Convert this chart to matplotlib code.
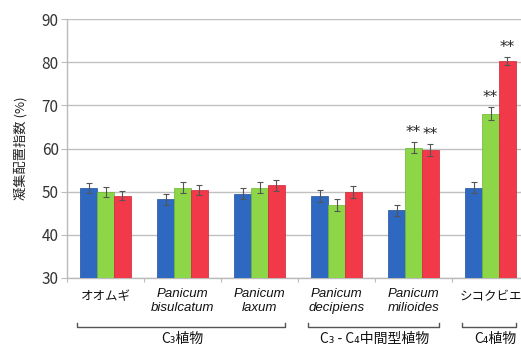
import matplotlib
matplotlib.use("Agg")
import matplotlib.pyplot as plt
from matplotlib.transforms import blended_transform_factory
import numpy as np

# データ
categories = ["オオムギ", "Panicum\nbisulcatum", "Panicum\nlaxum",
              "Panicum\ndecipiens", "Panicum\nmilioides", "シコクビエ"]
italic_flags = [False, True, True, True, True, False]
blue_vals = [50.8, 48.2, 49.5, 49.0, 45.7, 50.9]
green_vals = [49.9, 50.9, 50.9, 47.0, 60.2, 68.1]
red_vals = [49.1, 50.4, 51.5, 49.9, 59.6, 80.3]
blue_err = [1.1, 1.3, 1.3, 1.3, 1.3, 1.3]
green_err = [1.1, 1.3, 1.3, 1.4, 1.2, 1.4]
red_err = [1.1, 1.2, 1.3, 1.4, 1.4, 0.9]
green_sig = [False, False, False, False, True, True]
red_sig = [False, False, False, False, True, True]
group_labels = ["C₃植物", "C₃ - C₄中間型植物", "C₄植物"]
group_spans = [(0, 2), (3, 4), (5, 5)]

JP = ["Noto Sans CJK JP", "DejaVu Sans"]

fig = plt.figure(figsize=(5.21, 3.47), dpi=100)
ax = fig.add_axes([67/521, 69/347, 462/521, 259/347])

x = np.arange(len(categories))
w = 0.22
err_kw = dict(ecolor="#555555", elinewidth=0.8, capsize=2, capthick=0.8)
ax.bar(x - w, blue_vals, w, yerr=blue_err, color="#2e68c0", edgecolor="#1f4f99",
       linewidth=0.5, error_kw=err_kw, zorder=3)
ax.bar(x, green_vals, w, yerr=green_err, color="#8cd648", edgecolor="#6cb52e",
       linewidth=0.5, error_kw=err_kw, zorder=3)
ax.bar(x + w, red_vals, w, yerr=red_err, color="#f2394a", edgecolor="#c92636",
       linewidth=0.5, error_kw=err_kw, zorder=3)

for i in range(len(categories)):
    if green_sig[i]:
        ax.text(x[i], green_vals[i] + green_err[i] + 0.5, "**", ha="center",
                va="bottom", fontsize=11, color="#222222")
    if red_sig[i]:
        ax.text(x[i] + w, red_vals[i] + red_err[i] + 0.5, "**", ha="center",
                va="bottom", fontsize=11, color="#222222")

ax.set_ylim(30, 90)
ax.set_xlim(-0.5, len(categories) - 0.5)
ax.set_yticks(range(30, 91, 10))
ax.yaxis.grid(True, color="#c0c0c0", linewidth=1.0, zorder=0)
ax.set_axisbelow(True)
for s in ["top", "right"]:
    ax.spines[s].set_visible(False)
ax.spines["left"].set_color("#bbbbbb")
ax.spines["bottom"].set_color("#bbbbbb")
ax.spines["left"].set_linewidth(1.0)
ax.spines["bottom"].set_linewidth(1.0)
ax.tick_params(axis="y", length=4, color="#bbbbbb", labelsize=11,
               labelcolor="#333333", pad=2)
for lab in ax.get_yticklabels():
    lab.set_family(JP)
ax.set_xticks(np.arange(len(categories) + 1) - 0.5)
ax.set_xticklabels([])
ax.tick_params(axis="x", length=3, color="#bbbbbb")

ax.set_ylabel("凝集配置指数 (%)", family=JP, fontsize=9.5, color="#222222",
              labelpad=10)

trans = blended_transform_factory(ax.transData, fig.transFigure)
for i, (name, it) in enumerate(zip(categories, italic_flags)):
    if it:
        ax.text(x[i], 1 - 301/347, name, transform=trans, ha="center", va="center",
                fontsize=9.5, style="italic", family="Liberation Sans",
                color="#111111", linespacing=1.2)
    else:
        ax.text(x[i], 1 - 297/347, name, transform=trans, ha="center", va="center",
                fontsize=9, family=JP, color="#111111")

# 群のかっこ
yb = 1 - 327/347
yt = 1 - 323/347
for (a, b), lab in zip(group_spans, group_labels):
    x0, x1 = a - 0.37, b + 0.33
    ax.plot([x0, x0, x1, x1], [yt, yb, yb, yt], transform=trans, color="#555555",
            linewidth=1.0, clip_on=False)
    xc = (a + b) / 2 if b > a else b + 0.06
    ax.text(xc, 1 - 339/347, lab, transform=trans, ha="center", va="center",
            fontsize=10, family=JP, color="#111111")

fig.savefig("out.png", dpi=100)
